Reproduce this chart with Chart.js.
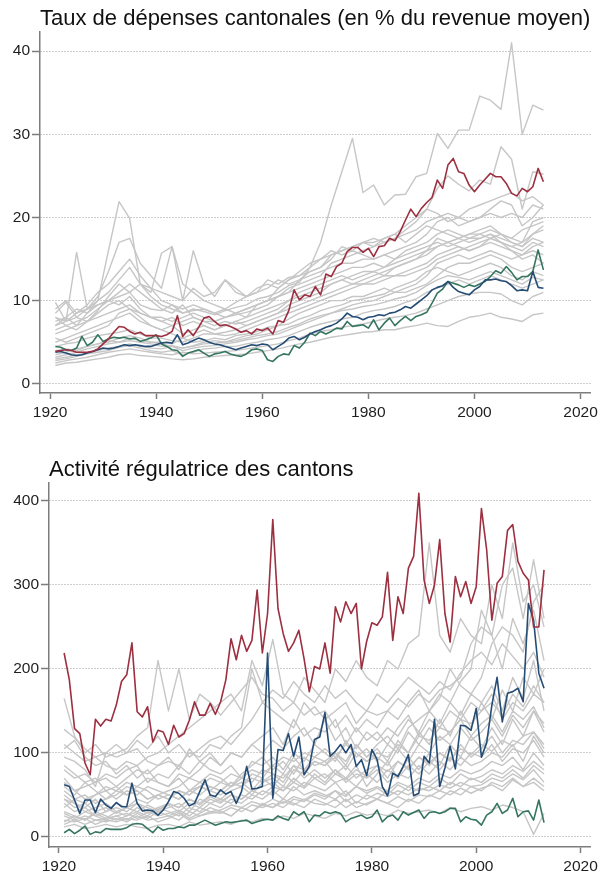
<!DOCTYPE html>
<html><head><meta charset="utf-8">
<script src="https://cdn.jsdelivr.net/npm/chart.js@4"></script>
<style>
html,body{margin:0;padding:0;background:#fff;width:602px;height:874px;overflow:hidden}
canvas{position:absolute;left:0}
#c1{top:0}
#c2{top:428px}
</style></head><body>
<canvas id="c1" width="602" height="430"></canvas>
<canvas id="c2" width="602" height="446"></canvas>
<script>
const years = [1921,1922,1923,1924,1925,1926,1927,1928,1929,1930,1931,1932,1933,1934,1935,1936,1937,1938,1939,1940,1941,1942,1943,1944,1945,1946,1947,1948,1949,1950,1951,1952,1953,1954,1955,1956,1957,1958,1959,1960,1961,1962,1963,1964,1965,1966,1967,1968,1969,1970,1971,1972,1973,1974,1975,1976,1977,1978,1979,1980,1981,1982,1983,1984,1985,1986,1987,1988,1989,1990,1991,1992,1993,1994,1995,1996,1997,1998,1999,2000,2001,2002,2003,2004,2005,2006,2007,2008,2009,2010,2011,2012,2013];
const grayYears = [1921,1923,1925,1927,1929,1931,1933,1935,1937,1939,1941,1943,1945,1947,1949,1951,1953,1955,1957,1959,1961,1963,1965,1967,1969,1971,1973,1975,1977,1979,1981,1983,1985,1987,1989,1991,1993,1995,1997,1999,2001,2003,2005,2007,2009,2011,2013];
const xTicks = [1920,1940,1960,1980,2000,2020];
const topTicks = [0,10,20,30,40];
const botTicks = [0,100,200,300,400];
const topTitle = 'Taux de dépenses cantonales (en % du revenue moyen)';
const botTitle = 'Activité régulatrice des cantons';

// Panel 1: highlighted cantons
const topRed = [3.9,4.0,4.1,4.0,3.8,3.8,3.8,3.9,4.2,4.8, 5.4,6.2,6.9,6.8,6.3,6.0,6.2,5.8,5.8,5.8, 5.7,5.9,6.3,8.2,5.7,6.5,5.8,6.8,7.9,8.1, 7.5,7.0,7.1,6.9,6.6,6.2,6.4,6.0,6.6,6.4, 6.7,6.0,7.6,7.4,8.8,11.3,10.1,10.7,10.5,11.7, 10.7,13.2,12.9,14.1,14.5,15.9,16.4,16.4,15.8,16.3, 15.3,16.5,16.6,17.5,17.2,18.3,19.7,21.0,20.1,21.1, 21.8,22.4,24.5,23.5,26.3,27.1,25.5,25.3,23.9,23.1, 23.9,24.6,25.3,24.9,24.9,24.1,22.9,22.6,23.5,23.1, 23.7,25.9,24.3];
const topBlue = [3.8,3.9,3.7,3.5,3.4,3.5,3.7,3.9,4.1,4.3, 4.2,4.3,4.5,4.7,4.6,4.7,4.6,4.5,4.5,4.7, 4.9,5.0,4.9,5.9,4.7,4.9,5.2,5.5,5.3,5.0, 4.8,4.7,4.5,4.3,4.1,4.3,4.5,4.7,4.6,4.8, 4.7,4.1,4.5,4.9,5.5,5.7,5.3,5.6,6.0,6.3, 6.5,6.8,7.0,7.3,7.8,8.5,8.1,8.0,7.7,8.0, 8.1,8.3,8.2,8.5,8.6,8.9,9.3,9.1,9.6,10.1, 10.6,11.3,11.6,11.8,12.3,11.6,11.1,10.9,10.7,11.3, 11.7,12.5,12.5,12.6,12.4,12.3,11.8,11.2,11.3,11.2, 13.5,11.6,11.5];
const topGreen = [4.5,4.4,4.1,4.0,4.3,5.7,4.6,5.0,5.9,5.1, 5.4,5.6,5.5,5.6,5.4,5.5,5.1,5.3,5.5,5.9, 4.8,4.5,4.1,4.0,3.3,3.7,3.9,4.1,3.7,3.3, 3.6,3.7,3.9,3.6,3.4,3.3,3.6,4.1,4.2,4.0, 2.9,2.7,3.3,3.6,3.5,4.6,4.3,5.0,6.1,5.8, 6.3,6.0,6.3,6.7,6.6,7.5,6.9,7.0,7.1,6.7, 7.7,6.5,7.3,7.9,7.0,7.6,8.1,7.6,8.1,8.3, 8.6,9.7,10.9,11.4,12.3,12.1,11.9,11.6,11.9,11.7, 12.0,12.3,12.9,13.6,13.3,14.1,13.4,12.5,12.9,12.9, 13.5,16.1,13.7];

// Panel 1: other cantons (every second year)
const topG1 = [8.5,9.8,8.0,7.5,8.8, 10.5,12.0,11.0,9.5,9.0, 8.8,9.5,8.5,9.0,8.7, 8.3,8.8,9.2,9.5,10.2, 10.5,11.0,11.8,12.2,14.0, 17.0,21.5,25.5,29.5,23.0, 23.9,21.5,22.7,22.8,24.9, 25.3,30.1,28.3,30.5,30.5, 34.6,34.1,33.0,41.0,30.0, 33.5,32.9];
const topG2 = [7.5,8.0,7.0,8.5,10.0, 16.0,21.9,19.9,12.0,10.5, 9.5,9.0,8.5,8.8,9.0, 8.5,8.0,8.3,8.6,9.0, 9.5,10.5,11.5,12.0,12.5, 13.0,14.5,15.0,15.5,16.0, 16.5,17.0,17.5,18.5,19.5, 21.0,23.5,25.0,24.0,23.2, 24.5,24.0,28.5,27.0,21.0, 25.5,25.2];
const topG3 = [9.8,7.5,15.8,9.0,10.5, 13.5,17.0,17.5,14.5,13.0, 11.5,16.5,12.0,11.0,10.0, 9.5,9.0,9.8,10.5,11.0, 12.5,12.0,12.8,13.0,14.0, 15.0,15.5,16.0,16.5,17.0, 17.5,17.0,17.5,18.0,18.5, 19.5,20.0,20.5,20.0,19.5, 20.0,20.5,20.0,20.5,20.0, 21.5,21.0];
const topG4 = [7.0,7.5,8.0,9.0,10.0, 11.0,12.5,14.0,12.0,11.0, 15.7,16.5,10.0,16.0,12.0, 10.5,12.5,11.0,10.5,11.5, 12.0,11.5,12.5,13.0,13.5, 14.0,15.0,16.5,16.0,17.0, 16.5,17.5,18.0,17.0,18.0, 19.0,18.5,18.0,17.5,18.0, 18.5,19.0,18.0,17.5,18.5, 19.0,19.5];
const topG5 = [8.0,7.0,7.5,8.0,9.0, 10.0,11.0,12.0,11.0,10.0, 9.0,8.5,9.5,8.0,7.5, 7.5,8.0,8.5,8.0,9.5, 10.0,11.5,12.5,13.5,14.5, 15.0,16.0,15.5,16.0,15.5, 15.0,15.5,16.0,16.5,17.0, 18.0,19.5,20.0,19.0,19.5, 20.0,21.0,22.0,21.5,19.0, 20.0,21.5];
const topG6 = [5.0,5.5,6.0,6.5,7.0, 7.5,8.0,8.5,7.5,7.0, 6.5,7.0,6.0,6.5,7.0, 6.5,7.0,7.5,8.0,8.5, 9.0,9.5,10.0,10.5,11.0, 11.5,12.0,12.5,13.0,13.5, 13.5,14.0,14.5,15.0,15.5, 16.0,16.5,17.0,17.5,18.0, 18.0,18.5,18.0,17.5,17.0, 18.0,18.5];
const topG7 = [4.5,4.8,5.0,5.5,5.8, 6.0,6.2,6.5,6.0,5.5, 5.5,5.2,5.0,5.5,6.0, 6.0,6.2,6.5,7.0,7.5, 8.0,8.5,9.0,9.5,10.0, 10.5,11.0,11.5,12.0,12.0, 12.5,13.0,13.0,13.5,14.0, 14.5,15.5,16.0,16.5,16.0, 16.5,17.0,16.5,16.0,15.5, 16.5,17.0];
const topG8 = [2.2,2.5,2.6,2.8,3.0, 3.2,3.5,3.6,3.4,3.3, 3.2,3.0,2.9,3.0,3.2, 3.3,3.4,3.5,3.6,3.8, 4.0,4.2,4.5,4.8,5.0, 5.3,5.6,5.8,6.0,6.2, 6.3,6.5,6.5,6.8,7.0, 7.3,7.0,6.9,7.5,8.0, 8.2,8.5,8.0,7.8,7.5, 8.3,8.5];
const topG9 = [2.5,2.8,3.0,3.2,3.5, 3.8,4.0,4.2,4.0,3.8, 3.6,3.5,3.8,3.6,3.7, 3.8,3.9,4.0,4.2,4.4, 4.6,4.8,5.2,5.5,6.0, 6.3,6.5,6.8,7.0,7.2, 7.5,7.8,8.0,8.2,8.5, 9.0,9.5,10.0,10.5,10.8, 11.0,11.0,10.8,10.0,9.5, 10.5,11.0];
const topG10 = [3.0,3.2,3.5,3.7,4.0, 4.3,4.5,4.8,4.5,4.3, 4.2,4.5,4.0,4.3,4.5, 4.6,4.8,5.0,5.3,5.5, 5.8,6.0,6.5,7.0,7.5, 8.0,8.5,9.0,9.5,9.8, 10.0,10.5,11.0,11.0,11.5, 12.0,13.0,14.0,14.5,14.5, 15.0,15.5,15.0,14.0,13.5, 14.0,14.5];
const topG11 = [4.0,4.2,4.0,4.5,4.8, 5.0,5.5,5.8,5.5,5.0, 4.8,4.5,4.3,4.6,5.0, 5.2,5.0,5.4,5.8,6.0, 6.5,7.0,7.8,8.5,9.0, 9.5,10.0,10.0,10.5,10.5, 11.0,11.5,11.0,11.5,12.0, 13.0,14.5,15.0,15.5,15.0, 15.5,16.0,15.5,15.0,15.5, 16.0,15.5];
const topG12 = [8.0,7.5,8.5,9.0,9.5, 10.0,10.5,11.0,12.0,11.5, 11.0,10.5,10.0,11.5,10.5, 11.0,12.5,11.5,10.5,11.0, 11.5,12.5,12.0,12.5,13.0, 13.5,14.0,14.5,14.5,15.0, 15.0,15.5,15.0,16.0,16.5, 17.0,18.0,18.5,18.0,17.5, 17.5,18.0,17.0,16.5,16.0, 17.0,16.5];
const topG13 = [7.0,8.0,9.0,8.5,9.5, 10.0,9.5,10.5,9.0,8.0, 7.5,7.0,7.5,8.0,7.5, 7.0,7.5,7.2,7.5,8.0, 8.5,9.0,10.0,11.0,11.5, 12.0,12.5,13.0,12.5,13.0, 13.5,13.0,14.0,14.5,15.0, 16.0,17.5,17.0,16.5,16.0, 16.5,17.5,17.0,16.0,15.0, 15.5,14.5];
const topG14 = [5.5,5.0,5.5,6.0,6.5, 7.0,8.5,9.0,8.0,7.0, 6.5,6.0,5.5,6.0,6.5, 6.0,5.8,6.0,6.5,7.0, 7.5,8.0,8.5,9.0,9.5, 10.0,10.5,11.0,11.5,12.0, 12.0,12.5,13.0,13.0,13.5, 14.0,15.0,15.5,16.0,16.5, 17.0,17.5,17.0,16.5,17.0, 19.5,20.0];
const topG15 = [6.5,7.0,6.5,7.5,8.5, 9.5,10.0,9.0,8.5,8.0, 8.0,7.5,8.0,8.5,8.0, 7.5,8.0,8.5,9.0,9.5, 10.0,10.5,11.0,12.5,13.5, 14.0,15.5,16.0,16.5,17.0, 17.0,17.5,18.0,19.0,20.0, 21.0,20.5,19.5,20.0,21.0, 21.5,22.0,22.5,23.0,22.0, 22.5,21.5];
const topG16 = [3.5,3.8,4.2,4.5,4.8, 5.2,5.0,5.5,5.2,5.0, 5.0,4.8,5.5,5.0,5.2, 5.5,5.3,5.8,6.0,6.3, 6.8,7.0,7.2,7.8,8.2, 8.8,9.2,9.5,10.0,10.2, 10.5,10.8,11.5,12.0,12.5, 13.5,14.0,13.5,13.0,13.5, 14.0,14.5,14.0,13.0,12.5, 13.5,13.0];
const topG17 = [2.8,3.0,3.3,3.6,3.8, 4.0,4.4,4.6,4.3,4.0, 3.8,4.0,3.5,3.8,4.2, 4.3,4.5,4.5,4.8,5.0, 5.3,5.5,5.8,6.3,6.8, 7.2,7.5,7.8,8.0,8.5, 8.8,9.0,9.3,9.8,10.2, 11.0,11.5,12.0,12.5,12.0, 12.5,13.0,12.5,12.0,11.5, 12.0,12.5];
const topG18 = [9.0,10.0,8.5,9.5,11.0, 12.0,13.5,15.0,13.0,11.5, 10.0,9.5,9.0,9.5,9.0, 8.5,9.0,8.5,9.0,9.5, 10.0,10.5,11.0,11.5,12.0, 12.5,13.0,13.5,14.0,14.0, 14.5,14.0,15.0,15.5,16.0, 16.5,17.0,16.5,17.0,17.5, 18.0,17.5,18.0,17.0,16.5, 18.0,19.0];
const topG19 = [6.0,6.5,7.0,7.5,8.0, 8.5,9.0,9.5,8.5,8.0, 7.5,8.0,7.0,7.5,7.0, 6.5,7.0,7.5,7.0,7.5, 8.0,8.5,9.5,10.0,10.5, 11.0,12.0,12.5,12.0,12.5, 13.0,13.5,14.0,14.5,15.0, 15.5,16.5,17.0,17.5,17.0, 17.5,18.0,17.5,17.0,16.5, 17.5,17.0];
const topG20 = [3.2,3.5,3.8,4.2,4.5, 4.8,5.0,5.2,5.0,4.8, 4.5,4.6,4.3,4.5,4.8, 4.9,5.0,5.2,5.5,5.8, 6.0,6.3,6.8,7.2,7.8, 8.2,8.5,8.8,9.0,9.3, 9.5,9.8,10.2,10.5,11.0, 11.8,12.5,13.0,12.8,12.5, 13.0,13.5,13.0,12.5,12.0, 12.8,12.5];

// Panel 2: highlighted cantons
const botRed = [219,187,129,123,88,74,140,132,140,138, 157,185,193,231,149,143,155,113,127,125, 110,133,119,123,139,161,145,145,159,146, 161,187,236,211,240,221,234,294,219,266, 378,272,242,221,231,246,212,173,203,200, 231,195,274,256,280,266,278,200,233,255, 252,262,315,234,286,266,320,334,409,306, 278,300,354,266,232,310,286,304,278,298, 391,342,258,302,310,365,372,328,314,306, 250,250,318];
const botBlue = [62,60,44,28,44,44,29,45,38,34, 41,36,36,64,40,31,32,31,26,32, 42,54,52,46,37,40,54,68,50,48, 56,51,54,40,54,84,57,58,60,219, 46,104,103,123,96,119,74,84,116,119, 148,96,102,110,100,110,84,92,73,104, 92,60,49,76,72,84,98,49,52,96, 88,140,60,82,108,81,133,132,127,153, 95,112,157,190,137,171,173,177,161,278, 258,195,177];
const botGreen = [5,9,4,8,13,3,6,5,10,9, 9,9,11,15,16,15,10,5,12,8, 10,10,12,11,14,14,17,20,17,14, 16,18,17,18,19,20,16,18,20,21, 20,25,22,20,30,26,30,18,26,25, 30,28,30,28,18,22,24,26,22,24, 32,18,24,26,20,30,26,29,32,22, 29,30,28,30,34,34,18,24,21,20, 14,26,30,40,28,32,46,24,30,31, 20,44,17];

// Panel 2: other cantons (every second year)
const botG1 = [110,100,90,95,85, 80,90,85,95,100, 110,120,130,140,150, 160,170,150,210,180, 235,170,160,190,175, 160,200,185,210,190, 180,210,200,230,240, 350,240,220,260,240, 230,300,260,350,280, 300,250];
const botG2 = [165,120,100,110,95, 100,105,120,130,210, 150,200,140,170,160, 145,160,175,190,170, 165,150,160,145,155, 140,150,160,135,150, 145,150,165,155,170, 160,175,180,190,230, 250,240,200,260,230, 270,210];
const botG3 = [128,118,105,95,100, 110,100,115,105,120, 100,110,95,105,115, 120,110,125,140,160, 150,140,130,160,145, 150,130,145,125,140, 130,150,140,160,175, 150,165,200,180,170, 190,230,250,240,220, 280,300];
const botG4 = [95,90,80,60,100, 95,100,105,90,85, 95,80,105,90,100, 85,100,95,110,120, 130,110,140,120,130, 125,140,110,130,115, 125,110,130,145,120, 140,130,150,140,160, 150,170,140,160,150, 170,160];
const botG5 = [70,55,60,65,75, 70,80,85,65,75, 70,85,75,90,80, 75,85,70,90,85, 95,80,100,90,110, 100,90,115,95,105, 90,110,100,125,110, 130,115,125,140,120, 135,145,125,150,140, 155,130];
const botG6 = [55,45,50,40,45, 50,60,55,45,50, 55,60,70,65,75, 70,60,75,85,95, 80,90,75,95,85, 90,75,85,70,80, 85,70,90,80,95, 85,100,90,110,95, 105,120,100,115,110, 125,105];
const botG7 = [50,40,35,45,30, 40,35,45,40,50, 45,55,50,60,55, 50,60,65,55,70, 60,75,65,80,70, 75,65,70,60,75, 65,80,70,85,75, 90,80,95,85,100, 95,110,90,105,100, 115,95];
const botG8 = [40,30,35,25,30, 35,30,40,35,30, 35,40,30,45,40, 45,40,50,45,55, 50,60,55,65,60, 55,65,50,60,55, 60,55,65,60,70, 65,75,70,80,75, 80,90,85,95,80, 100,85];
const botG9 = [30,25,20,30,25, 20,25,30,25,35, 30,25,35,30,40, 35,45,40,50,45, 55,45,60,50,55, 50,45,55,40,50, 45,55,50,60,55, 60,55,65,60,70, 65,75,70,80,70, 85,75];
const botG10 = [25,20,15,20,18, 22,18,25,20,22, 25,20,30,25,28, 30,25,35,30,40, 35,45,40,35,45, 40,35,45,35,40, 45,40,35,45,40, 50,45,55,50,60, 55,65,60,70,60, 70,60];
const botG11 = [12,15,10,12,15, 12,15,12,10,14, 15,12,18,14,16, 18,15,20,18,22, 20,25,22,28,25, 22,28,25,30,26, 28,25,32,28,30, 32,28,35,30,34, 36,32,38,35,30, 3,28];
const botG12 = [20,18,22,15,20, 18,22,20,25,18, 22,28,20,25,30, 28,35,30,38,35, 40,35,45,42,50, 45,55,48,60,52, 58,50,62,55,65, 60,70,62,75,68, 72,80,75,85,78, 90,80];
const botG13 = [60,50,65,55,45, 55,65,60,70,65, 60,75,70,80,95, 85,100,95,110,100, 115,105,120,130,110, 140,115,130,105,125, 115,130,120,140,125, 150,135,160,145,170, 160,180,150,190,165, 210,150];
const botG14 = [35,45,40,50,55, 45,55,50,60,55, 50,45,55,50,60, 55,65,60,70,65, 75,65,85,70,80, 70,80,65,75,70, 80,65,75,70,85, 75,90,80,95,85, 90,100,95,110,90, 120,100];
const botG15 = [105,115,95,85,90, 75,85,70,80,65, 60,70,55,65,60, 55,65,60,75,70, 85,75,95,80,90, 85,95,80,100,90, 95,85,105,90,110, 100,120,110,130,115, 125,140,120,145,130, 150,135];
const botG16 = [45,40,30,35,40, 30,35,40,30,35, 40,35,45,40,50, 45,55,60,50,65, 70,60,80,75,90, 85,100,90,110,95, 110,120,105,130,140, 150,170,160,185,200, 270,240,300,320,260, 330,260];
const botG17 = [15,20,25,20,22, 25,28,22,30,25, 28,32,25,35,30, 32,38,35,42,38, 45,40,48,44,52, 48,55,42,50,45, 52,48,55,50,58, 55,62,58,65,60, 62,70,66,75,68, 80,65];
const botG18 = [80,70,75,65,70, 60,70,80,75,85, 90,85,100,95,110, 105,120,130,200,160, 175,165,185,170,160, 180,165,175,160,150, 170,160,175,190,180, 170,185,175,195,210, 220,205,230,215,200, 220,190];
const botG19 = [28,22,30,25,20, 25,20,28,22,30, 25,30,22,28,35, 30,25,35,30,38, 35,42,38,45,40, 38,45,35,42,38, 45,40,48,42,50, 48,55,50,58,52, 58,62,55,68,60, 65,55];
const botG20 = [65,55,45,50,60, 55,50,60,55,45, 50,45,55,60,70, 65,75,70,80,75, 85,95,90,100,95, 105,95,110,100,90, 100,95,110,100,120, 115,130,125,140,135, 150,160,145,170,155, 180,160];
const botG21 = [45,35,40,30,35, 28,35,30,38,32, 40,35,45,38,48, 42,50,45,55,60, 65,55,70,60,75, 65,80,70,85,60, 75,90,70,95,80, 100,85,110,95,120, 105,130,110,140,120, 150,125];
const botG22 = [18,25,20,28,22, 30,25,35,28,32, 38,30,40,35,45, 40,50,45,55,50, 60,55,65,58,70, 62,75,68,80,72, 85,78,90,82,95, 88,100,92,105,98, 110,102,115,108,120, 125,110];
const botG23 = [85,75,65,70,55, 60,50,55,45,50, 45,55,50,60,55, 65,60,70,65,80, 75,70,85,80,95, 90,100,85,110,95, 105,90,115,100,125, 110,140,120,150,130, 160,140,175,150,190, 170,200];

const topGrays = [topG1,topG2,topG3,topG4,topG5,topG6,topG7,topG8,topG9,topG10,topG11,topG12,topG13,topG14,topG15,topG16,topG17,topG18,topG19,topG20];
const botGrays = [botG1,botG2,botG3,botG4,botG5,botG6,botG7,botG8,botG9,botG10,botG11,botG12,botG13,botG14,botG15,botG16,botG17,botG18,botG19,botG20,botG21,botG22,botG23];

const RED = '#9c2f40', BLUE = '#244c74', GREEN = '#367560', GRAY = '#c6c6c6';
const AX = '#7d7d7d', GRID = '#9a9a9a', TXT = '#1e1e1e';
const FONT = "Arial, 'Liberation Sans', sans-serif";

function makeChart(id, cfg) {
  const datasets = [];
  cfg.highlights.forEach(h => datasets.push({
    data: years.map((yr, i) => ({x: yr, y: h.values[i]})),
    borderColor: h.color, borderWidth: 1.6, order: 0
  }));
  cfg.grays.forEach(g => datasets.push({
    data: grayYears.map((yr, i) => ({x: yr, y: g[i]})),
    borderColor: GRAY, borderWidth: 1.4, order: 1
  }));
  return new Chart(document.getElementById(id), {
    type: 'line',
    data: {datasets},
    options: {
      responsive: false, animation: false, events: [], devicePixelRatio: 1,
      layout: {padding: {left: 0, right: 9, top: 0, bottom: 0}},
      elements: {point: {radius: 0}, line: {tension: 0, borderJoinStyle: 'round', fill: false}},
      plugins: {
        legend: {display: false}, tooltip: {enabled: false},
        title: {display: true, text: cfg.title, align: 'start', fullSize: false, color: '#111',
          font: {family: FONT, size: 22, weight: 'normal', lineHeight: 1},
          padding: {top: cfg.titleTop, bottom: cfg.titleBottom}}
      },
      scales: {
        x: {
          type: 'linear', min: 1918.1, max: 2021.9,
          afterBuildTicks: s => { s.ticks = xTicks.map(v => ({value: v})); },
          afterFit: s => { s.height = cfg.xh; },
          grid: {drawOnChartArea: false, tickLength: 6, tickColor: AX, tickWidth: 1.5},
          border: {color: AX, width: 1.5},
          ticks: {padding: 4, color: TXT, font: {family: FONT, size: 15.5}, maxRotation: 0, autoSkip: false, callback: v => String(v)}
        },
        y: {
          min: cfg.ymin, max: cfg.ymax,
          afterBuildTicks: s => { s.ticks = cfg.yticks.map(v => ({value: v})); },
          afterFit: s => { s.width = cfg.yw; },
          grid: {color: GRID, lineWidth: 1, tickLength: 8, tickColor: AX, tickWidth: 1.5, tickBorderDash: []},
          border: {color: AX, width: 1.5, dash: [1, 2]},
          ticks: {padding: 2, color: TXT, font: {family: FONT, size: 15.5}, autoSkip: false, callback: v => String(v)}
        }
      }
    }
  });
}

makeChart('c1', {
  title: topTitle, titleTop: 8, titleBottom: 2, xh: 37, yw: 40,
  ymin: -1.1, ymax: 42.3, yticks: topTicks,
  highlights: [{values: topRed, color: RED}, {values: topBlue, color: BLUE}, {values: topGreen, color: GREEN}],
  grays: topGrays
});
makeChart('c2', {
  title: botTitle, titleTop: 31, titleBottom: 2, xh: 27, yw: 49,
  ymin: -12, ymax: 421.4, yticks: botTicks,
  highlights: [{values: botRed, color: RED}, {values: botBlue, color: BLUE}, {values: botGreen, color: GREEN}],
  grays: botGrays
});
</script>
</body></html>
